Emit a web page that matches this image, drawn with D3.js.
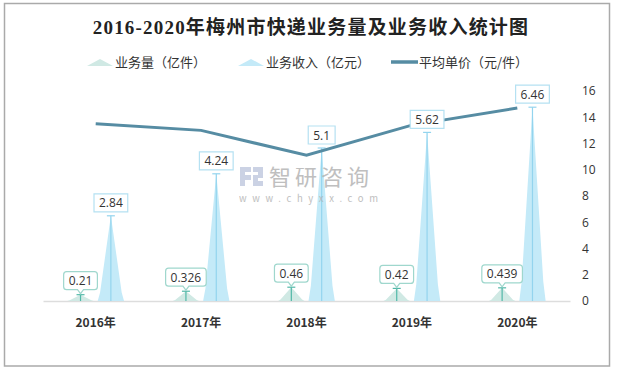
<!DOCTYPE html>
<html>
<head>
<meta charset="utf-8">
<script src="https://cdn.jsdelivr.net/npm/d3@7"></script>
<style>
  body { margin: 0; background: #fff; }
  svg { display: block; font-family: "Noto Sans CJK SC", "Open Sans", sans-serif; }
</style>
</head>
<body>
<svg class="chart" width="618" height="371"></svg>
<script>
var years = ["2016年", "2017年", "2018年", "2019年", "2020年"];
var volume = [0.21, 0.326, 0.46, 0.42, 0.439];     // 业务量（亿件）
var revenue = [2.84, 4.24, 5.1, 5.62, 6.46];       // 业务收入（亿元）
var price = [13.5, 13.0, 11.1, 13.4, 14.7];        // 平均单价（元/件）
var rightTicks = [0, 2, 4, 6, 8, 10, 12, 14, 16];
var leftMax = 7;

var svg = d3.select(".chart");

// frame
svg.append("rect")
    .attr("x", 4.5).attr("y", 3.5)
    .attr("width", 605).attr("height", 362.5)
    .attr("fill", "none")
    .attr("stroke", "#aaaaaa")
    .attr("stroke-width", 1.5);

// title
svg.append("text")
    .attr("x", 311).attr("y", 27)
    .attr("text-anchor", "middle")
    .attr("dominant-baseline", "central")
    .style("font-family", '"Liberation Serif", "Noto Sans CJK SC", serif')
    .style("font-size", "19px")
    .style("letter-spacing", "1.2px")
    .style("font-weight", "bold")
    .attr("fill", "#222")
    .text("2016-2020年梅州市快递业务量及业务收入统计图");

var x = d3.scaleBand().domain(years).range([43, 570]);
var yL = d3.scaleLinear().domain([0, leftMax]).range([301, 91]);
var yR = d3.scaleLinear().domain([0, 16]).range([301, 91]);

var barW = x.bandwidth() * 0.25;
var off = (barW + 4) / 2;
var base = yL(0);

var volFill = "#d0e9e4", volLine = "#52b8a8", volBorder = "#9fd7cd";
var revFill = "#c4eaf8", revLine = "#93d4ee", revBorder = "#b5e1f2";
var lineColor = "#568ca3";

function spike(cx, top, w) {
    var h = base - top;
    return "M" + (cx - w / 2) + "," + base +
        "L" + (cx - w / 2 + w * 0.09) + "," + (base - h * 0.1) +
        "L" + cx + "," + top +
        "L" + (cx + w / 2 - w * 0.09) + "," + (base - h * 0.1) +
        "L" + (cx + w / 2) + "," + base + "Z";
}

function center(d) { return x(d) + x.bandwidth() / 2; }

// bottom axis
var xAxis = svg.append("g")
    .attr("transform", "translate(0," + base + ")")
    .call(d3.axisBottom(x).tickSize(0).tickSizeOuter(0).tickPadding(17));
xAxis.select(".domain").attr("stroke", "#dddddd").attr("stroke-width", 1.5);
xAxis.selectAll("text")
    .style("font-size", "12px")
    .style("font-weight", "bold")
    .style("font-family", '"Noto Sans CJK SC", sans-serif')
    .attr("fill", "#333");

// right axis
var yAxis = svg.append("g")
    .attr("transform", "translate(570,0)")
    .call(d3.axisRight(yR).tickValues(rightTicks).tickSize(0).tickPadding(12));
yAxis.select(".domain").remove();
yAxis.selectAll("text")
    .style("font-size", "12px")
    .style("font-family", '"Open Sans", sans-serif')
    .attr("fill", "#333");

// volume spikes
svg.selectAll(".vol")
    .data(years)
    .enter()
    .append("path")
    .attr("class", "vol")
    .attr("d", (d, i) => spike(center(d) - off, yL(volume[i]), barW))
    .attr("fill", volFill);

// revenue spikes
svg.selectAll(".rev")
    .data(years)
    .enter()
    .append("path")
    .attr("class", "rev")
    .attr("d", (d, i) => spike(center(d) + off, yL(revenue[i]), barW))
    .attr("fill", revFill);

// center lines and top ticks
function stems(vals, dx, color, cls) {
    var g = svg.append("g").attr("class", cls);
    years.forEach((d, i) => {
        var cx = center(d) + dx;
        var top = yL(vals[i]);
        g.append("line")
            .attr("x1", cx).attr("x2", cx)
            .attr("y1", top).attr("y2", base)
            .attr("stroke", color).attr("stroke-width", 1.2);
        g.append("line")
            .attr("x1", cx - 4).attr("x2", cx + 4)
            .attr("y1", top).attr("y2", top)
            .attr("stroke", color).attr("stroke-width", 1.2);
    });
}
stems(volume, -off, volLine, "vstem");
stems(revenue, off, revLine, "rstem");

// average price line
var line = d3.line()
    .x((d, i) => center(years[i]))
    .y(d => yR(d));
svg.append("path")
    .datum(price)
    .attr("d", line)
    .attr("fill", "none")
    .attr("stroke", lineColor)
    .attr("stroke-width", 3);

// watermark
var wm = svg.append("g").attr("opacity", 0.85);
wm.append("path")
    .attr("d", "M240,167H251V172H245V175H251V180H245V186H240Z M253,167H263V178H258V181H263V186H253V175H258V172H253Z")
    .attr("fill", "#c2cbe0");
wm.append("text")
    .attr("x", 269).attr("y", 185)
    .style("font-size", "22px")
    .style("letter-spacing", "4px")
    .attr("fill", "#b4b4b4")
    .text("智研咨询");
wm.append("text")
    .attr("x", 239).attr("y", 202)
    .attr("textLength", 139)
    .attr("lengthAdjust", "spacing")
    .style("font-size", "9.5px")
    .attr("fill", "#b4b4b4")
    .text("www.chyxx.com");

// value labels
function labels(vals, dx, border, rounded) {
    years.forEach((d, i) => {
        var cx = center(d) + dx;
        var top = yL(vals[i]);
        var g = svg.append("g");
        var t = g.append("text")
            .attr("x", cx)
            .attr("text-anchor", "middle")
            .style("font-size", "12px")
            .style("font-family", '"Open Sans", sans-serif')
            .attr("fill", "#333")
            .text(String(vals[i]));
        var w = t.node().getComputedTextLength() + 10;
        var h = 18;
        var y1 = top - (rounded ? 5 : 4);
        var y0 = y1 - h;
        var x0 = cx - w / 2;
        var p;
        if (rounded) {
            var r = 3;
            p = "M" + (x0 + r) + "," + y0 + "H" + (x0 + w - r) +
                "Q" + (x0 + w) + "," + y0 + " " + (x0 + w) + "," + (y0 + r) +
                "V" + (y1 - r) +
                "Q" + (x0 + w) + "," + y1 + " " + (x0 + w - r) + "," + y1 +
                "H" + (cx + 3) + "L" + cx + "," + (top - 1) + "L" + (cx - 3) + "," + y1 +
                "H" + (x0 + r) +
                "Q" + x0 + "," + y1 + " " + x0 + "," + (y1 - r) +
                "V" + (y0 + r) +
                "Q" + x0 + "," + y0 + " " + (x0 + r) + "," + y0 + "Z";
        } else {
            p = "M" + x0 + "," + y0 + "H" + (x0 + w) + "V" + y1 + "H" + x0 + "Z";
        }
        g.insert("path", "text")
            .attr("d", p)
            .attr("fill", "#fff")
            .attr("stroke", border)
            .attr("stroke-width", 1.2);
        t.attr("y", (y0 + y1) / 2).attr("dominant-baseline", "central");
    });
}
labels(volume, -off, volBorder, true);
labels(revenue, off, revBorder, false);

// legend
var legend = svg.append("g");
var items = [
    { label: "业务量（亿件）", x: 87, type: "spike", color: volFill },
    { label: "业务收入（亿元）", x: 238, type: "spike", color: revFill },
    { label: "平均单价（元/件）", x: 391, type: "line", color: lineColor }
];
items.forEach(it => {
    if (it.type == "spike") {
        legend.append("path")
            .attr("d", "M" + it.x + ",66L" + (it.x + 13) + ",59L" + (it.x + 26) + ",66Z")
            .attr("fill", it.color);
    } else {
        legend.append("line")
            .attr("x1", it.x).attr("x2", it.x + 27)
            .attr("y1", 62).attr("y2", 62)
            .attr("stroke", it.color)
            .attr("stroke-width", 3.5);
    }
    legend.append("text")
        .attr("x", it.x + 28)
        .attr("y", 61)
        .attr("dominant-baseline", "central")
        .style("font-size", "13px")
        .attr("fill", "#333")
        .text(it.label);
});
</script>
</body>
</html>
